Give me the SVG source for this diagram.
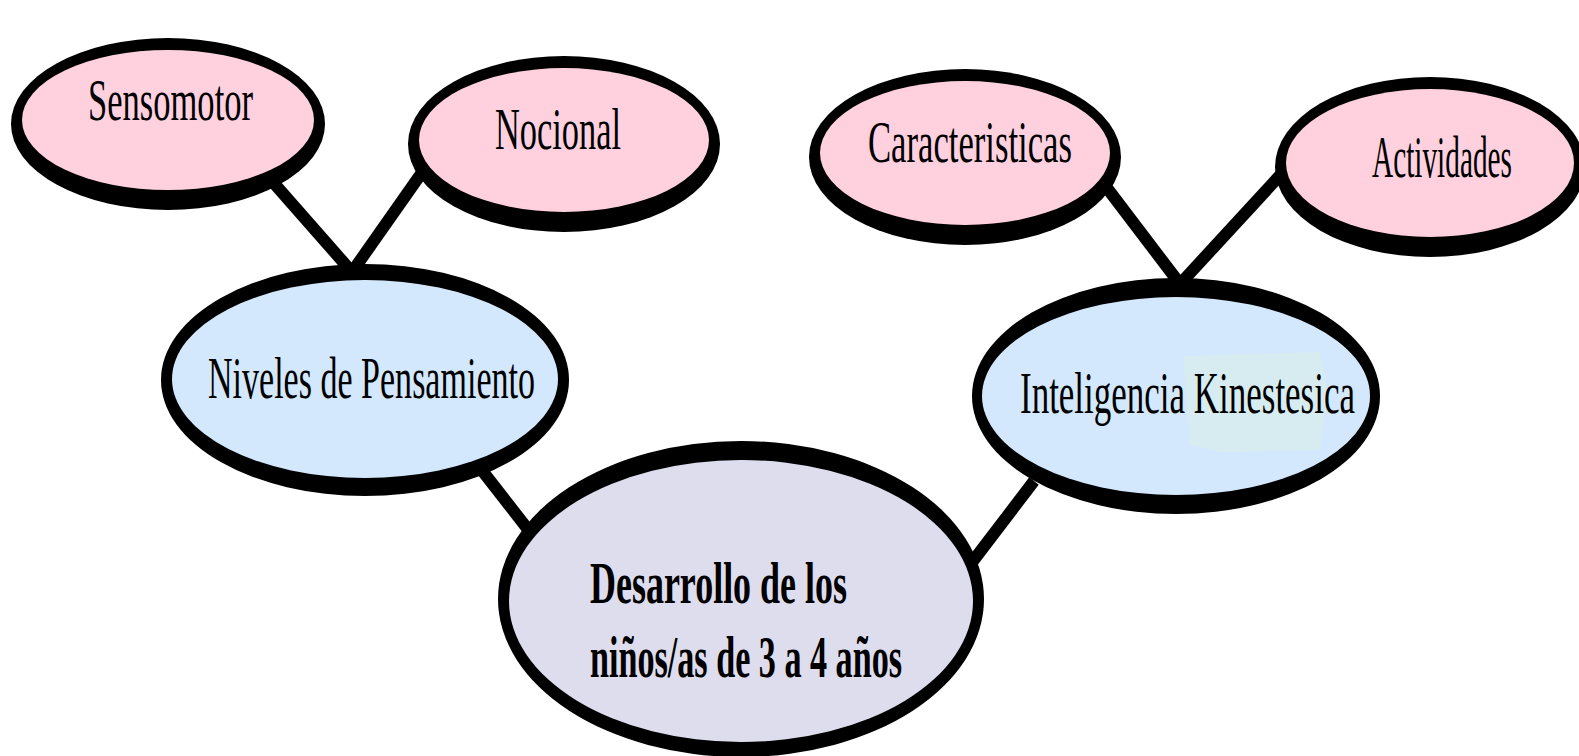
<svg xmlns="http://www.w3.org/2000/svg" width="1579" height="756" viewBox="0 0 1579 756">
<style>
.edge{stroke:#000;stroke-width:12;stroke-linecap:butt;fill:none}
.rim{fill:#000}
.pink{fill:#FFD1DF}
.blue{fill:#D3E8FC}
.lav{fill:#DEDDEE}
.t{font-family:"Liberation Serif","Times New Roman",serif;font-size:32px;fill:#000}
.tb{font-family:"Liberation Serif","Times New Roman",serif;font-size:34px;font-weight:bold;fill:#000}
</style>
<rect width="1579" height="756" fill="#fff"/>
<g id="connectors">
<line class="edge" x1="272" y1="181" x2="352" y2="272"/>
<line class="edge" x1="423" y1="171" x2="352" y2="272"/>
<line class="edge" x1="1104" y1="184" x2="1180" y2="284"/>
<line class="edge" x1="1284" y1="171" x2="1180" y2="284"/>
<line class="edge" x1="470" y1="455" x2="530" y2="532"/>
<line class="edge" x1="1034" y1="481" x2="973" y2="561"/>
</g>
<g id="sensomotor">
<ellipse class="rim" cx="168" cy="124" rx="157" ry="86"/>
<ellipse class="pink" cx="168" cy="120" rx="146" ry="70"/>
<text class="t" transform="translate(88 120) scale(1 1.85)" textLength="165" lengthAdjust="spacingAndGlyphs">Sensomotor</text>
</g>
<g id="nocional">
<ellipse class="rim" cx="564" cy="144" rx="156" ry="88"/>
<ellipse class="pink" cx="564" cy="140" rx="145" ry="72"/>
<text class="t" transform="translate(495 149) scale(1 1.85)" textLength="126" lengthAdjust="spacingAndGlyphs">Nocional</text>
</g>
<g id="caracteristicas">
<ellipse class="rim" cx="965" cy="157" rx="156" ry="88"/>
<ellipse class="pink" cx="965" cy="153" rx="145" ry="72"/>
<text class="t" transform="translate(868 162) scale(1 1.85)" textLength="204" lengthAdjust="spacingAndGlyphs">Caracteristicas</text>
</g>
<g id="actividades">
<ellipse class="rim" cx="1430" cy="167" rx="155" ry="90"/>
<ellipse class="pink" cx="1430" cy="163" rx="144" ry="74"/>
<text class="t" transform="translate(1372 177) scale(1 1.85)" textLength="140" lengthAdjust="spacingAndGlyphs">Actividades</text>
</g>
<g id="niveles">
<ellipse class="rim" cx="365" cy="380" rx="204" ry="116"/>
<ellipse class="blue" cx="365" cy="379" rx="193" ry="99"/>
<text class="t" transform="translate(208 398) scale(1 1.85)" textLength="327" lengthAdjust="spacingAndGlyphs">Niveles de Pensamiento</text>
</g>
<g id="inteligencia">
<ellipse class="rim" cx="1176" cy="396" rx="204" ry="118"/>
<ellipse class="blue" cx="1176" cy="396" rx="194" ry="99"/>
<path d="M1183 356 L1320 352 L1327 392 L1320 450 L1222 452 L1190 445 Z" fill="#D7ECF0"/>
<text class="t" transform="translate(1020 413) scale(1 1.85)" textLength="335" lengthAdjust="spacingAndGlyphs">Inteligencia Kinestesica</text>
</g>
<g id="desarrollo">
<ellipse class="rim" cx="741" cy="599" rx="243" ry="158"/>
<ellipse class="lav" cx="741" cy="601" rx="232" ry="141"/>
<text class="tb" transform="translate(590 603) scale(1 1.75)" textLength="257" lengthAdjust="spacingAndGlyphs">Desarrollo de los</text>
<text class="tb" transform="translate(590 677) scale(1 1.75)" textLength="312" lengthAdjust="spacingAndGlyphs">niños/as de 3 a 4 años</text>
</g>
</svg>
